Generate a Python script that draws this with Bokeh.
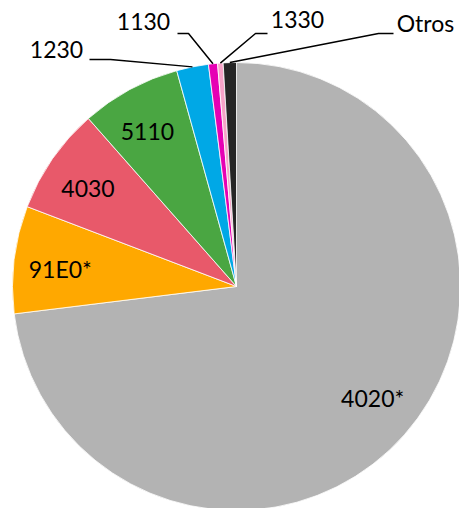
import math
from bokeh.plotting import figure
from bokeh.models import Range1d, ColumnDataSource
from bokeh.core.properties import value
from bokeh.embed import file_html
from bokeh.resources import INLINE

# ---- data ----
categories = ["4020*", "91E0*", "4030", "5110", "1230", "1130", "1330", "Otros"]
shares = [73.05, 7.75, 7.7, 7.2, 2.3, 0.65, 0.4, 0.95]
colors = ["#B3B3B3", "#FFA800", "#E8596A", "#4AA642", "#00A8E6", "#E600B4", "#F7A3C8", "#262626"]
inside = ["4020*", "91E0*", "4030", "5110"]

# ---- layout (pixel-like coordinates, y flipped) ----
CX, CY, R = 236.0, -286.0, 224.0
FONT = value("Lato")
FSIZE = "23px"
LABEL_SHIFT = math.radians(1.8)

total = sum(shares)
starts, ends, mids = [], [], []
acc = 0.0
for s in shares:
    t0 = acc / total * 2 * math.pi
    acc += s
    t1 = acc / total * 2 * math.pi
    starts.append(math.pi / 2 - t0)
    ends.append(math.pi / 2 - t1)
    mids.append((t0 + t1) / 2)

src = ColumnDataSource(dict(cat=categories, start=starts, end=ends, color=colors))

p = figure(width=459, height=508, output_backend="svg", toolbar_location=None,
           x_range=Range1d(0, 459), y_range=Range1d(-508, 0),
           x_axis_location=None, y_axis_location=None, min_border=0)
p.grid.visible = False
p.outline_line_color = None
p.background_fill_color = "white"

p.wedge(x=CX, y=CY, radius=R, start_angle="start", end_angle="end", direction="clock",
        fill_color="color", line_color="white", line_width=0.8, source=src)

# inside labels
lx, ly, lt = [], [], []
for c, m in zip(categories, mids):
    if c in inside:
        rr = 0.79 * R
        a = m - LABEL_SHIFT
        lx.append(CX + rr * math.sin(a))
        ly.append(CY + rr * math.cos(a) + 2)
        lt.append(c)
p.text(x=lx, y=ly, text=lt, text_align="center", text_baseline="alphabetic",
       text_font=FONT, text_font_size=FSIZE, text_color="black")

# outside labels with leader lines
outside = {
    "1230":  dict(tx=56,  ty=-48.5, elbow=[(89, -59), (110, -59)]),
    "1130":  dict(tx=143, ty=-20.5, elbow=[(177, -33), (188, -33)]),
    "1330":  dict(tx=297, ty=-19.0, elbow=[(267, -33), (255, -33)]),
    "Otros": dict(tx=425, ty=-22.0, elbow=[(393, -33), (378, -33)]),
}
ox, oy, ot = [], [], []
for c, m in zip(categories, mids):
    if c in outside:
        o = outside[c]
        ex = CX + R * math.sin(m)
        ey = CY + R * math.cos(m)
        xs = [pt[0] for pt in o["elbow"]] + [ex]
        ys = [pt[1] for pt in o["elbow"]] + [ey]
        p.line(xs, ys, line_color="black", line_width=1.5)
        ox.append(o["tx"]); oy.append(o["ty"]); ot.append(c)
p.text(x=ox, y=oy, text=ot, text_align="center", text_baseline="alphabetic",
       text_font=FONT, text_font_size=FSIZE, text_color="black")

open("out.html", "w").write(file_html(p, INLINE))
